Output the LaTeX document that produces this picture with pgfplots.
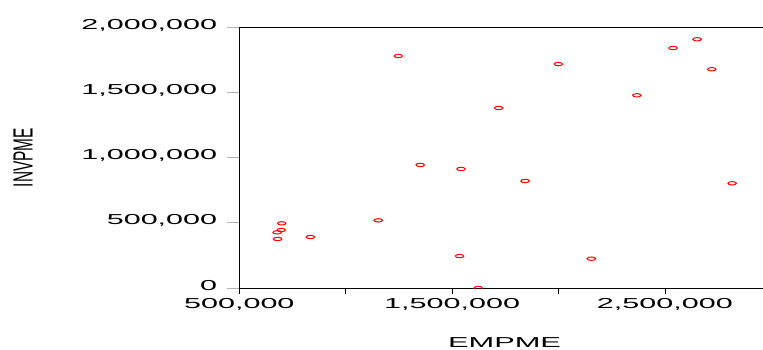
\documentclass[border=0pt]{standalone}
\usepackage{pgfplots}
\pgfplotsset{compat=1.18}
\usepackage{fontspec}
\setmainfont{Liberation Sans}
\usepackage{graphicx}
\newcommand{\sx}[1]{\scalebox{2.12}[1]{#1}}
\begin{document}
\begin{tikzpicture}
\begin{axis}[
  scale only axis, width=523.7bp, height=260.7bp,
  xmin=500000, xmax=2961000, ymin=0, ymax=2000000,
  axis x line*=bottom, axis y line*=left,
  axis line style={-, black, line width=0.8bp},
  xtick={500000,1500000,2500000},
  xticklabels={{\sx{500,000}},{\sx{1,500,000}},{\sx{2,500,000}}},
  minor xtick={500000,1000000,1500000,2000000,2500000},
  ytick={0,500000,1000000,1500000,2000000},
  yticklabels={{\sx{0}},{\sx{500,000}},{\sx{1,000,000}},{\sx{1,500,000}},{\sx{2,000,000}}},
  scaled ticks=false,
  tick align=outside,
  major tick length=12.6bp,
  minor tick length=6bp,
  major x tick style={draw=none},
  minor x tick style={black, line width=0.8bp},
  y tick style={gray!60, line width=0.8bp},
  tick label style={font=\fontsize{14.4bp}{16bp}\selectfont, black},
  xticklabel style={yshift=5.7bp},
  yticklabel style={xshift=-6bp, yshift=2bp},
  clip marker paths=true,
]
\addplot[only marks, mark=o, mark size=1.7bp, mark options={xscale=2.5, red, line width=1bp}] coordinates {
(1247000,1780000)
(1999000,1718000)
(2538000,1841000)
(2651000,1908000)
(2720000,1678000)
(2368000,1478000)
(1719000,1381000)
(1350000,944000)
(1542000,913000)
(1843000,821000)
(2816000,803000)
(1153000,519000)
(699000,496000)
(697000,445000)
(678000,427000)
(680000,376000)
(834000,391000)
(1535000,245000)
(2154000,225000)
(1623000,0)
};
\coordinate (bl) at (rel axis cs:0,0);
\coordinate (tr) at (rel axis cs:1,1);
\coordinate (ml) at (rel axis cs:0,0.5);
\coordinate (bm) at (rel axis cs:0.5,0);
\end{axis}
\draw[black, line width=0.8bp] (bl |- tr) -- (tr);
\node[font=\fontsize{15.4bp}{17bp}\selectfont, inner sep=0pt] at ([xshift=-216.3bp]ml) {\scalebox{1.8}[1]{\rotatebox{90}{INVPME}}};
\node[font=\fontsize{14.4bp}{16bp}\selectfont, inner sep=0pt, anchor=base] at ([xshift=3.4bp,yshift=-59.5bp]bm) {\scalebox{2.14}[1]{EMPME}};
\pgfresetboundingbox
\path ([xshift=-239.3bp,yshift=-62bp]bl) rectangle ([yshift=27.3bp]tr);
\end{tikzpicture}
\end{document}
